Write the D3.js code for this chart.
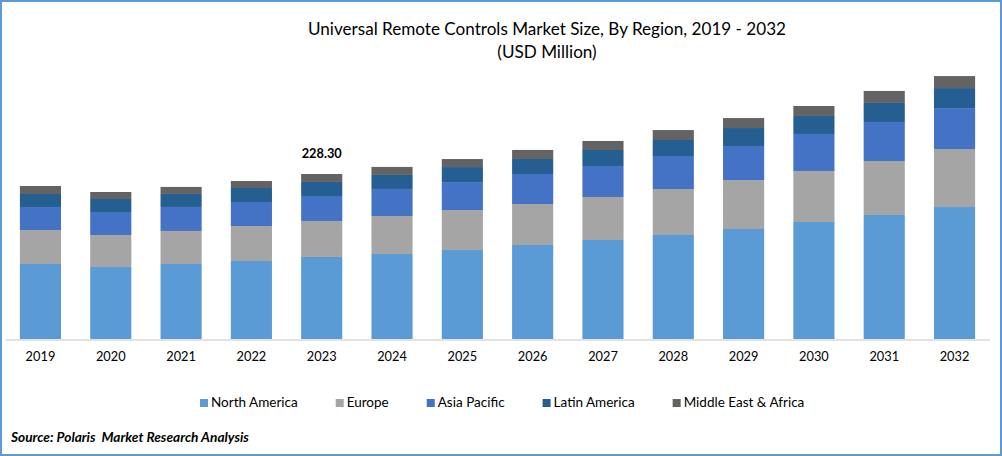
<!DOCTYPE html>
<html>
<head>
<meta charset="utf-8">
<script src="https://cdnjs.cloudflare.com/ajax/libs/d3/7.8.5/d3.min.js"></script>
<style>
  html, body { margin: 0; padding: 0; background: #fff; }
  svg { display: block; }
  text { font-family: Lato, "Open Sans", sans-serif; fill: #000; white-space: pre; }
</style>
</head>
<body>
<script>
// chart values, USD million
var years = ["2019", "2020", "2021", "2022", "2023", "2024", "2025", "2026", "2027", "2028", "2029", "2030", "2031", "2032"];
var regions = ["North America", "Europe", "Asia Pacific", "Latin America", "Middle East & Africa"];
var northAmerica = [103.8, 99.6, 103.8, 107.9, 113.5, 117.6, 123.1, 130.1, 137.0, 143.9, 152.2, 161.9, 171.6, 182.6];
var europe = [47.0, 44.3, 45.7, 48.4, 49.8, 52.6, 55.3, 56.7, 59.5, 63.6, 67.8, 70.6, 74.7, 80.2];
var asiaPacific = [31.8, 31.8, 33.2, 33.2, 34.6, 37.4, 38.7, 41.5, 42.9, 45.7, 47.0, 51.2, 54.0, 56.7];
var latinAmerica = [18.0, 18.0, 18.0, 19.4, 19.4, 19.4, 20.8, 20.8, 22.1, 22.1, 24.9, 24.9, 26.3, 27.7];
var middleEastAfrica = [11.1, 9.7, 9.7, 9.7, 11.0, 11.1, 11.1, 12.5, 12.5, 13.8, 13.8, 13.8, 16.6, 16.6];
var colours = ["#5B9BD5", "#A5A5A5", "#4472C4", "#255E91", "#636363"];
var calloutYear = "2023";
var calloutText = "228.30";

var width = 1002, height = 456;
var svg = d3.select("body").append("svg")
    .attr("width", width)
    .attr("height", height);

// frame
svg.append("rect")
    .attr("x", 1).attr("y", 1)
    .attr("width", width - 2).attr("height", height - 2)
    .attr("fill", "#fff")
    .attr("stroke", "#5B9BD5")
    .attr("stroke-width", 2);

// title
var title = svg.append("g").attr("text-anchor", "middle");
title.append("text").attr("x", 547).attr("y", 35).attr("font-size", 17.1)
    .text("Universal Remote Controls Market Size, By Region, 2019 - 2032");
title.append("text").attr("x", 547).attr("y", 58).attr("font-size", 17.1)
    .text("(USD Million)");

// stack the series
var rows = years.map(function(y, i) {
  return {
    year: y,
    "North America": northAmerica[i],
    "Europe": europe[i],
    "Asia Pacific": asiaPacific[i],
    "Latin America": latinAmerica[i],
    "Middle East & Africa": middleEastAfrica[i]
  };
});
var series = d3.stack().keys(regions)(rows);

// scales
var x = d3.scaleBand()
    .domain(years)
    .range([5.3, 989.7])
    .paddingInner(0.415)
    .paddingOuter(0.2075);
var y = d3.scaleLinear()
    .domain([0, 228.3])
    .range([339, 174]);
var colour = d3.scaleOrdinal().domain(regions).range(colours);

// bars
svg.append("g").selectAll("g")
    .data(series)
  .enter().append("g")
    .attr("fill", function(d) { return colour(d.key); })
  .selectAll("rect")
    .data(function(d) { return d; })
  .enter().append("rect")
    .attr("x", function(d) { return x(d.data.year); })
    .attr("width", x.bandwidth())
    .attr("y", function(d) { return y(d[1]); })
    .attr("height", function(d) { return y(d[0]) - y(d[1]); });

// axis
var axis = svg.append("g")
    .attr("transform", "translate(0,339.5)")
    .call(d3.axisBottom(x).tickSize(0).tickPadding(12.3));
axis.select(".domain").attr("stroke", "#D9D9D9").attr("stroke-width", 1.5);
axis.selectAll("text")
    .attr("font-size", 12.8)
    .style("font-family", "Lato, 'Open Sans', sans-serif")
    .attr("fill", "#000");

// value callout
svg.append("text")
    .attr("x", x(calloutYear) + x.bandwidth() / 2)
    .attr("y", 158)
    .attr("text-anchor", "middle")
    .attr("font-size", 12.8)
    .attr("font-weight", "bold")
    .text(calloutText);

// legend
var legendX = 200;
var legend = svg.append("g").attr("transform", "translate(0,399)");
regions.forEach(function(r) {
  legend.append("rect")
      .attr("x", legendX)
      .attr("width", 8)
      .attr("height", 8)
      .attr("fill", colour(r));
  var label = legend.append("text")
      .attr("x", legendX + 11)
      .attr("y", 8)
      .attr("font-size", 13.5)
      .text(r);
  legendX += 11 + label.node().getComputedTextLength() + 38;
});

// source
svg.append("text")
    .attr("x", 11)
    .attr("y", 442)
    .attr("font-size", 13.7)
    .attr("font-weight", "bold")
    .attr("font-style", "italic")
    .text("Source: Polaris  Market Research Analysis");
</script>
</body>
</html>
